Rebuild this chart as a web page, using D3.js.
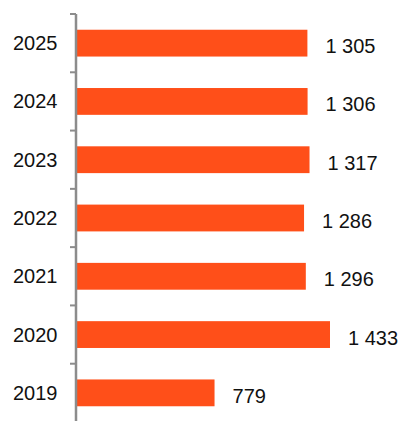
<!DOCTYPE html>
<head>
<meta charset="utf-8">
<style>
body { margin: 0; background: #fff; }
text { font-family: "Liberation Sans", Arial, sans-serif; font-size: 20px; fill: #111; }
</style>
</head>
<body>
<script src="https://cdn.jsdelivr.net/npm/d3@7"></script>
<script>
var years = ["2025", "2024", "2023", "2022", "2021", "2020", "2019"];
var values = [1305, 1306, 1317, 1286, 1296, 1433, 779];

var width = 401, height = 421;
var axisX = 76;

var svg = d3.select("body").append("svg")
  .attr("width", width)
  .attr("height", height);

var x = d3.scaleLinear().domain([0, 1433]).range([axisX + 1, 330]);
var y = d3.scaleBand().domain(years).range([14, 422])
  .paddingInner(0.54).paddingOuter(0.27);

var fmt = d3.formatLocale({decimal: ",", thousands: " ", grouping: [3], currency: ["", ""]}).format(",d");

// bars
svg.selectAll("rect.bar")
  .data(years)
  .enter()
  .append("rect")
  .attr("class", "bar")
  .attr("x", x(0))
  .attr("y", function(d) { return y(d); })
  .attr("width", function(d, i) { return x(values[i]) - x(0); })
  .attr("height", y.bandwidth())
  .style("fill", "#ff4f19");

// value labels
svg.selectAll("text.val")
  .data(years)
  .enter()
  .append("text")
  .attr("class", "val")
  .attr("x", function(d, i) { return x(values[i]) + 18; })
  .attr("y", function(d) { return y(d) + y.bandwidth() / 2 + 3; })
  .attr("dy", ".35em")
  .text(function(d, i) { return fmt(values[i]); });

// axis line + tick marks at band edges
var edges = d3.range(years.length + 1).map(function(i) { return y.range()[0] + i * y.step(); });
svg.append("line")
  .attr("x1", axisX).attr("x2", axisX)
  .attr("y1", edges[0]).attr("y2", height)
  .style("stroke", "#8c8c8c").style("stroke-width", 2.5);
svg.selectAll("line.tick")
  .data(edges)
  .enter()
  .append("line")
  .attr("class", "tick")
  .attr("x1", 70).attr("x2", axisX)
  .attr("y1", function(d) { return d; })
  .attr("y2", function(d) { return d; })
  .style("stroke", "#8c8c8c").style("stroke-width", 2);

// category labels
svg.selectAll("text.cat")
  .data(years)
  .enter()
  .append("text")
  .attr("class", "cat")
  .attr("x", 57.5)
  .attr("y", function(d) { return y(d) + y.bandwidth() / 2; })
  .attr("dy", ".35em")
  .attr("text-anchor", "end")
  .text(function(d) { return d; });
</script>
</body>
